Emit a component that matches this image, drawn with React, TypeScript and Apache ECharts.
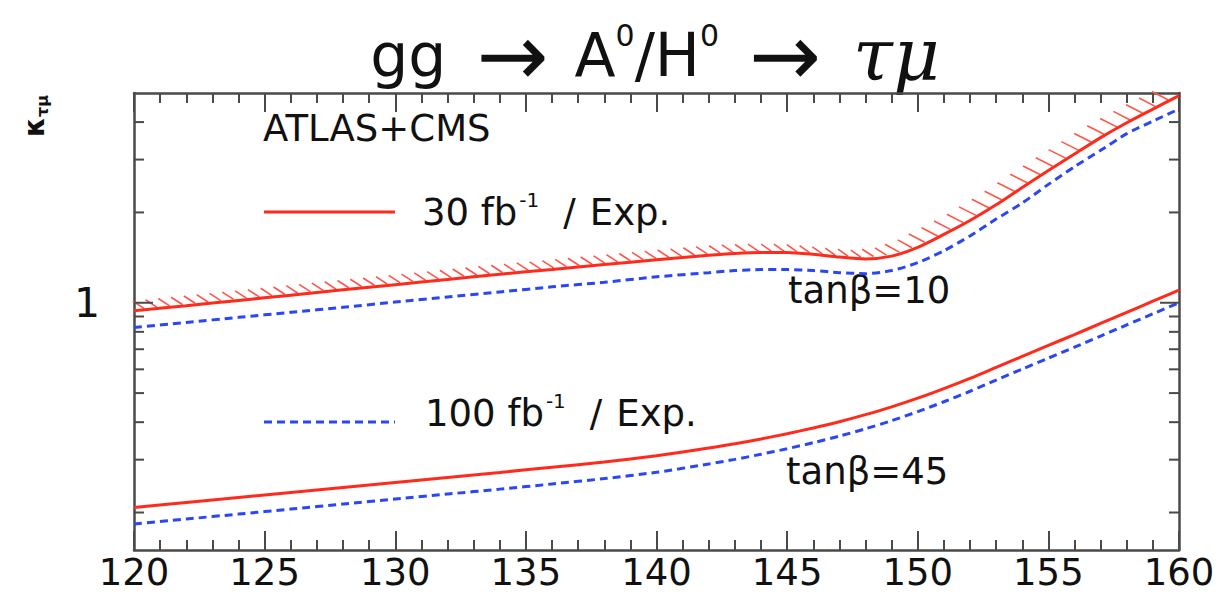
import React, { useEffect, useRef } from "react";
import * as echarts from "echarts";

// Higgs-like mass grid (GeV) shared by all four sensitivity curves
const massGrid = [
  120, 122, 124, 126, 128, 130, 132, 134, 136, 138, 140, 142,
  143, 144, 145, 146, 147, 148, 149, 150, 151, 152, 153, 154, 155, 156, 157, 158, 159, 160,
];

// tanβ = 10 reach, 30 fb^-1 and 100 fb^-1
const kappaTan10Lumi30 = [
  0.94, 0.978, 1.018, 1.06, 1.104, 1.149, 1.196, 1.245, 1.29, 1.34, 1.39, 1.44,
  1.46, 1.47, 1.47, 1.45, 1.42, 1.4, 1.43, 1.53, 1.69, 1.88, 2.12, 2.42, 2.76, 3.13, 3.55, 3.98, 4.42, 4.9,
];
const kappaTan10Lumi100 = [
  0.827, 0.86, 0.894, 0.929, 0.966, 1.005, 1.045, 1.086, 1.13, 1.17, 1.22, 1.26,
  1.28, 1.29, 1.29, 1.28, 1.26, 1.25, 1.28, 1.36, 1.49, 1.67, 1.9, 2.15, 2.48, 2.84, 3.22, 3.66, 4.03, 4.42,
];

// tanβ = 45 reach, 30 fb^-1 and 100 fb^-1
const kappaTan45Lumi30 = [
  0.208, 0.216, 0.2245, 0.2333, 0.2424, 0.2519, 0.2618, 0.272, 0.283, 0.2948, 0.3094, 0.3279,
  0.339, 0.3516, 0.3661, 0.3825, 0.4014, 0.4238, 0.4498, 0.4809, 0.5176, 0.5598, 0.6091, 0.6625, 0.7205, 0.7837, 0.853, 0.929, 1.012, 1.102,
];
const kappaTan45Lumi100 = [
  0.183, 0.1902, 0.1976, 0.2054, 0.2134, 0.2217, 0.2304, 0.2393, 0.2489, 0.2594, 0.2723, 0.2902,
  0.3007, 0.3127, 0.3263, 0.3417, 0.3594, 0.3803, 0.4046, 0.4337, 0.4679, 0.5071, 0.5528, 0.6012, 0.6539, 0.7113, 0.7747, 0.8435, 0.9186, 1.0,
];

// axis ranges and tick positions
const massRange = [120, 160];
const massStep = 5;
const kappaRange = [0.15, 5];
const kappaTicks = [0.2, 0.3, 0.4, 0.5, 0.6, 0.7, 0.8, 0.9, 1, 2, 3, 4];
const kappaLabelled = [1];

const RED = "#ff2a1c";
const HATCH = "#ff5547";
const BLUE = "#2a46f5";
const FRAME = "#4a4a4a";
const INK = "#111111";
const SANS = "DejaVu Sans";

const pair = (ys: number[]) => massGrid.map((m, i) => [m, ys[i]]);

export default function App() {
  const ref = useRef<HTMLDivElement>(null);

  useEffect(() => {
    document.body.style.margin = "0";
    if (!ref.current) return;
    const chart = echarts.init(ref.current, undefined, { renderer: "svg" });

    const frameAxis = (position: "bottom" | "top", showLabel: boolean) => ({
      type: "value",
      position,
      min: massRange[0],
      max: massRange[1],
      interval: massStep,
      axisLine: { show: true, onZero: false, lineStyle: { color: FRAME, width: 2.5 } },
      axisTick: { show: true, inside: true, length: 19, lineStyle: { color: FRAME, width: 2 } },
      minorTick: { show: true, splitNumber: 5, length: 10, lineStyle: { color: FRAME, width: 2 } },
      splitLine: { show: false },
      axisLabel: {
        show: showLabel,
        color: INK,
        fontFamily: SANS,
        fontSize: 37,
        lineHeight: 37,
        margin: 4,
      },
    });

    const logAxis = (position: "left" | "right", showLabel: boolean) => ({
      type: "log",
      logBase: 10,
      position,
      min: kappaRange[0],
      max: kappaRange[1],
      axisLine: { show: true, lineStyle: { color: FRAME, width: 2.5 } },
      axisTick: { show: false },
      splitLine: { show: false },
      axisLabel: {
        show: showLabel,
        color: INK,
        fontFamily: SANS,
        fontSize: 41,
        margin: 34,
        showMinLabel: false,
        showMaxLabel: false,
        formatter: (v: number) =>
          kappaLabelled.some((l) => Math.abs(v - l) < 1e-6) ? String(Math.round(v)) : "",
      },
    });

    const curve = (name: string, ys: number[], color: string, dashed: boolean) => ({
      name,
      type: "line",
      data: pair(ys),
      showSymbol: false,
      symbol: "none",
      smooth: 0.25,
      z: 4,
      lineStyle: { color, width: 3, type: dashed ? [8, 5] : "solid" },
    });

    // hatching on the excluded side of the 30 fb^-1, tanβ = 10 curve
    const hatchSeries = {
      type: "custom",
      coordinateSystem: "cartesian2d",
      clip: false,
      silent: true,
      z: 3,
      data: [[massGrid[0], kappaTan10Lumi30[0]]],
      renderItem: (_params: any, api: any) => {
        const pts = massGrid.map((m, i) => api.coord([m, kappaTan10Lumi30[i]]));
        const children: any[] = [];
        const step = 12.8;
        let seg = 0;
        const xEnd = pts[pts.length - 1][0];
        for (let x = pts[0][0] + 10; x <= xEnd + 0.5; x += step) {
          while (seg < pts.length - 2 && pts[seg + 1][0] < x) seg++;
          const [x0, y0] = pts[seg];
          const [x1, y1] = pts[seg + 1];
          const t = Math.min(1, (x - x0) / (x1 - x0));
          const y = y0 + t * (y1 - y0);
          const rise = Math.atan2(y0 - y1, x1 - x0);
          const k = Math.max(0, Math.min(1, rise / 0.54));
          children.push({
            type: "line",
            shape: { x1: x, y1: y - 1.5, x2: x - (10 + 7 * k), y2: y - 1.5 - (7 + 1.5 * k) },
            style: { stroke: HATCH, lineWidth: 1.6 },
          });
        }
        return { type: "group", children };
      },
    };

    // log-axis ticks on the left and right frame edges
    const kappaTickSeries = {
      type: "custom",
      coordinateSystem: "cartesian2d",
      clip: false,
      silent: true,
      z: 5,
      data: kappaTicks.map((v) => [massRange[0], v]),
      renderItem: (params: any, api: any) => {
        const cs = params.coordSys;
        const v = api.value(1);
        const y = api.coord([api.value(0), v])[1];
        const len = kappaLabelled.includes(v) ? 19 : 10;
        const style = { stroke: FRAME, lineWidth: 2 };
        return {
          type: "group",
          children: [
            { type: "line", shape: { x1: cs.x, y1: y, x2: cs.x + len, y2: y }, style },
            { type: "line", shape: { x1: cs.x + cs.width, y1: y, x2: cs.x + cs.width - len, y2: y }, style },
          ],
        };
      },
    };

    const legendRich = {
      n: { fontSize: 37, fontFamily: SANS, fill: INK, lineHeight: 44 },
      s: { fontSize: 20, fontFamily: SANS, fill: INK, verticalAlign: "top", lineHeight: 28, padding: [0, 0, 0, 2] },
      p: { fontSize: 37, fontFamily: SANS, fill: INK, lineHeight: 44, padding: [0, 14, 0, 24] },
    };

    chart.setOption({
      animation: false,
      backgroundColor: "#ffffff",
      grid: { left: 134, right: 41, top: 93, bottom: 45, containLabel: false },
      xAxis: [frameAxis("bottom", true), frameAxis("top", false)],
      yAxis: [logAxis("left", true), logAxis("right", false)],
      series: [
        hatchSeries,
        curve("tanβ=10, 30 fb⁻¹", kappaTan10Lumi30, RED, false),
        curve("tanβ=10, 100 fb⁻¹", kappaTan10Lumi100, BLUE, true),
        curve("tanβ=45, 30 fb⁻¹", kappaTan45Lumi30, RED, false),
        curve("tanβ=45, 100 fb⁻¹", kappaTan45Lumi100, BLUE, true),
        kappaTickSeries,
      ],
      graphic: [
        {
          type: "text",
          x: 655,
          y: 55,
          style: {
            text: "{n|gg}{a|→}{n|A}{s|0}{n|/H}{s|0}{a|→}{g|τμ}",
            align: "center",
            verticalAlign: "middle",
            rich: {
              n: { fontSize: 60, fontFamily: SANS, fill: INK, lineHeight: 70 },
              s: { fontSize: 30, fontFamily: SANS, fill: INK, verticalAlign: "top", lineHeight: 46 },
              a: { fontSize: 86, fontFamily: SANS, fill: INK, lineHeight: 70, padding: [0, 26, 0, 30] },
              g: { fontSize: 72, fontFamily: "DejaVu Serif", fontStyle: "italic", fill: INK, lineHeight: 70, padding: [0, 0, 0, 6] },
            },
          },
        },
        {
          type: "text",
          x: 34,
          y: 116,
          rotation: Math.PI / 2,
          style: {
            text: "{k|κ}{t|τμ}",
            align: "center",
            verticalAlign: "middle",
            rich: {
              k: { fontSize: 28, fontFamily: SANS, fontWeight: "bold", fill: INK, lineHeight: 32 },
              t: { fontSize: 16, fontFamily: SANS, fontWeight: "bold", fill: INK, verticalAlign: "bottom", lineHeight: 18 },
            },
          },
        },
        {
          type: "text",
          x: 263,
          y: 128,
          style: { text: "ATLAS+CMS", fontSize: 37, fontFamily: SANS, fill: INK, align: "left", verticalAlign: "middle" },
        },
        {
          type: "line",
          shape: { x1: 264, y1: 212, x2: 395, y2: 212 },
          style: { stroke: RED, lineWidth: 3 },
        },
        {
          type: "text",
          x: 422,
          y: 212,
          style: {
            text: "{n|30 fb}{s|-1}{p|/}{n|Exp.}",
            align: "left",
            verticalAlign: "middle",
            rich: legendRich,
          },
        },
        {
          type: "line",
          shape: { x1: 264, y1: 422, x2: 395, y2: 422 },
          style: { stroke: BLUE, lineWidth: 3, lineDash: [8, 5] },
        },
        {
          type: "text",
          x: 425,
          y: 413,
          style: {
            text: "{n|100 fb}{s|-1}{p|/}{n|Exp.}",
            align: "left",
            verticalAlign: "middle",
            rich: legendRich,
          },
        },
        {
          type: "text",
          x: 788,
          y: 290,
          style: { text: "tanβ=10", fontSize: 37, fontFamily: SANS, fill: INK, align: "left", verticalAlign: "middle" },
        },
        {
          type: "text",
          x: 786,
          y: 471,
          style: { text: "tanβ=45", fontSize: 37, fontFamily: SANS, fill: INK, align: "left", verticalAlign: "middle" },
        },
      ],
    });

    return () => chart.dispose();
  }, []);

  return <div ref={ref} style={{ width: 1220, height: 595 }} />;
}
